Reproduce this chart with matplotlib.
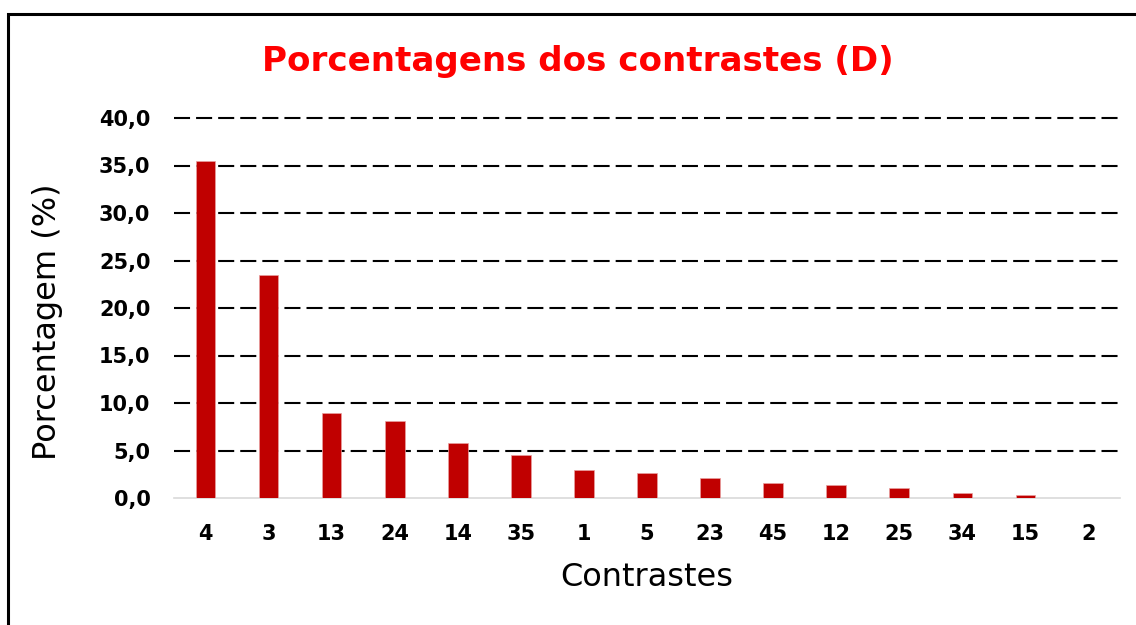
import matplotlib.pyplot as plt
from matplotlib.patches import Rectangle
from matplotlib.ticker import FuncFormatter

# data
contrastes = ['4', '3', '13', '24', '14', '35', '1', '5', '23', '45', '12', '25', '34', '15', '2']
porcentagem = [35.5, 23.5, 8.9, 8.1, 5.8, 4.5, 2.9, 2.6, 2.1, 1.6, 1.4, 1.05, 0.5, 0.35, 0.0]
yticks = [0, 5, 10, 15, 20, 25, 30, 35, 40]

plt.rcParams['font.family'] = ['DejaVu Sans']

W, H = 1136, 625
fig = plt.figure(figsize=(W/100, H/100), dpi=100)

# outer frame of the chart (cut off at right and bottom in the original)
fig.patches.append(Rectangle((8/W, -0.2), 1.2, 1 - 14/H + 0.2, transform=fig.transFigure,
                             fill=False, edgecolor='black', linewidth=2.2))

ax = fig.add_axes([174/W, 1 - 498/H, (1120 - 174)/W, (498 - 113.25)/H])
x = range(len(contrastes))
ax.bar(x, porcentagem, width=0.31, color='#C00000', edgecolor='#E8A0A0', linewidth=0.5, zorder=3)

ax.set_xlim(-0.5, len(contrastes) - 0.5)
ax.set_ylim(0, 40.5)
ax.set_yticks(yticks)
ax.yaxis.set_major_formatter(FuncFormatter(lambda v, p: f'{v:.1f}'.replace('.', ',')))
ax.set_xticks(list(x))
ax.set_xticklabels(contrastes)

# dashed gridlines, none on the zero line (the axis line is there)
ax.hlines(yticks[1:], -0.5, len(contrastes) - 0.5, color='black', linewidth=1.5,
          linestyle=(0, (7.7, 2.9)), zorder=1)
ax.tick_params(length=0, labelsize=15)
for lab in ax.get_xticklabels() + ax.get_yticklabels():
    lab.set_fontweight('bold')
ax.tick_params(axis='x', pad=19)
ax.tick_params(axis='y', pad=17)

for s in ['top', 'right', 'left']:
    ax.spines[s].set_visible(False)
ax.spines['bottom'].set_color('#D9D9D9')
ax.spines['bottom'].set_linewidth(1.2)
ax.spines['bottom'].set_zorder(2)

fig.text(578/W, 1 - 62/H, 'Porcentagens dos contrastes (D)', color='#FF0000',
         fontsize=24.6, fontweight='bold', ha='center', va='center')
fig.text(48/W, 1 - 322/H, 'Porcentagem (%)', fontsize=23, rotation=90, ha='center', va='center')
fig.text(647/W, 1 - 577/H, 'Contrastes', fontsize=23, ha='center', va='center')

fig.savefig('out.png', dpi=100)
